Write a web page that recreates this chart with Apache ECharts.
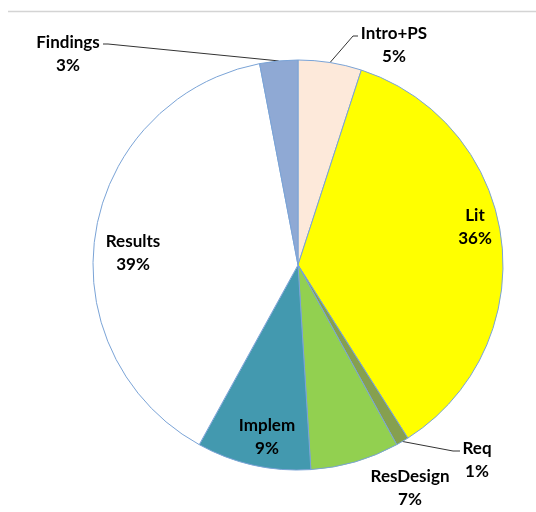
<!DOCTYPE html>
<html>
<head>
<meta charset="utf-8">
<script src="https://cdn.jsdelivr.net/npm/echarts@6/dist/echarts.min.js"></script>
<style>
  html, body { margin: 0; padding: 0; background: #fff; }
  #main { width: 536px; height: 512px; }
</style>
</head>
<body>
<div id="main"></div>
<script>
// chart data
const names = ['Intro+PS', 'Lit', 'Req', 'ResDesign', 'Implem', 'Results', 'Findings'];
const shares = [5, 36, 1, 7, 9, 39, 3];

// slice colours
const colors = ['#FDE9DA', '#FFFF00', '#86A04F', '#92D050', '#4399AF', '#FFFFFF', '#8FA9D4'];

// pie geometry
const cx = 298, cy = 265, R = 205;

// where Excel put the labels (text centre), and the elbow of the leader line if any
const labelPos = [
  { x: 394, y: 45, elbow: [353, 36], end: [358, 36] },
  { x: 475, y: 227 },
  { x: 477, y: 460, elbow: [453, 451], end: [460, 451] },
  { x: 410, y: 488 },
  { x: 267, y: 437 },
  { x: 133, y: 253 },
  { x: 68, y: 54, elbow: [108, 44], end: [103, 44] }
];

const total = shares.reduce((a, b) => a + b, 0);

// mid point of a slice on the rim, from the data
function rimPoint(i) {
  let before = 0;
  for (let k = 0; k < i; k++) before += shares[k];
  const a = (before + shares[i] / 2) / total * Math.PI * 2;
  return [cx + R * Math.sin(a), cy - R * Math.cos(a)];
}

const chart = echarts.init(document.getElementById('main'));

chart.setOption({
  animation: false,
  graphic: [{
    type: 'line',
    shape: { x1: 8, y1: 11.5, x2: 536, y2: 11.5 },
    style: { stroke: '#D4D4D4', lineWidth: 1.5 }
  }],
  series: [{
    type: 'pie',
    center: [cx, cy],
    radius: [0, R],
    startAngle: 90,
    clockwise: true,
    avoidLabelOverlap: false,
    itemStyle: { borderColor: '#7AA3D6', borderWidth: 1 },
    label: {
      show: true,
      position: 'outside',
      formatter: p => p.name + '\n' + p.value + '%',
      fontFamily: 'Lato',
      fontWeight: 'bold',
      fontSize: 17,
      lineHeight: 23,
      color: '#000',
      align: 'center'
    },
    labelLine: { show: true, lineStyle: { color: '#333', width: 1 } },
    labelLayout: function (p) {
      const i = p.dataIndex;
      const s = labelPos[i];
      const out = { x: s.x, y: s.y, align: 'center', verticalAlign: 'middle' };
      if (s.elbow) {
        out.labelLinePoints = [rimPoint(i), s.elbow, s.end];
      }
      return out;
    },
    data: names.map((n, i) => ({
      name: n,
      value: shares[i],
      itemStyle: { color: colors[i] },
      labelLine: { show: !!labelPos[i].elbow }
    })),
    emphasis: { disabled: true }
  }]
});
</script>
</body>
</html>
